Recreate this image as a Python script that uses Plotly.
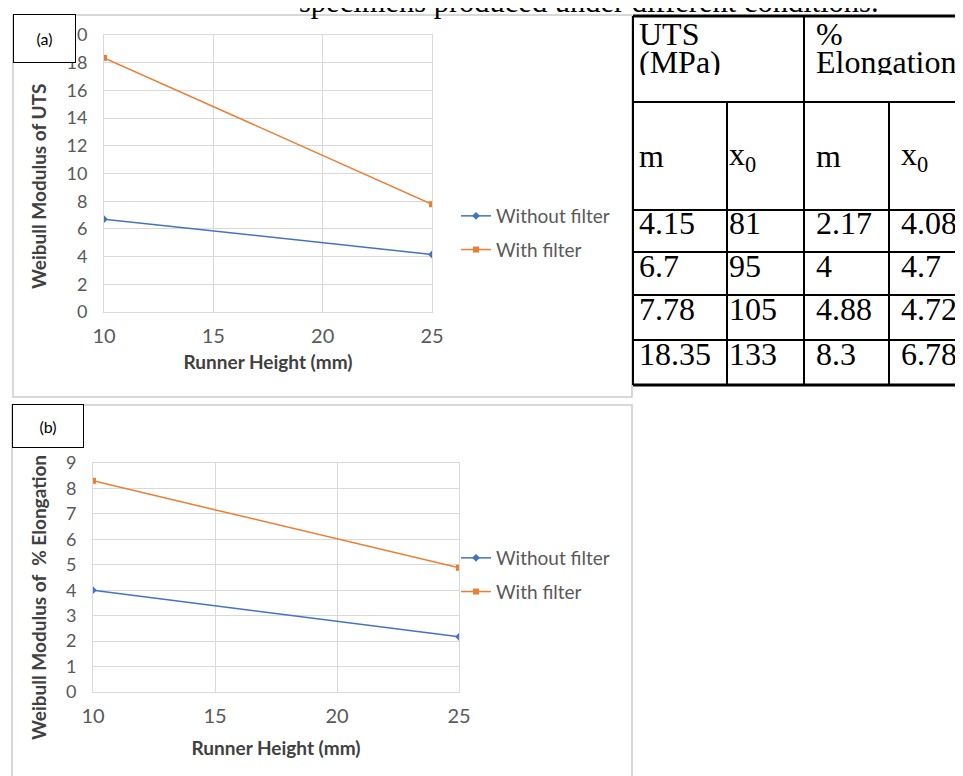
import plotly.graph_objects as go

# ---------------- data ----------------
runner_height = [10, 25]
uts_without = [6.7, 4.15]
uts_with = [18.35, 7.78]
elong_without = [4, 2.17]
elong_with = [8.3, 4.88]
series_names = ["Without filter", "With filter"]
x_ticks = [10, 15, 20, 25]

uts_m = [4.15, 6.7, 7.78, 18.35]
uts_x0 = [81, 95, 105, 133]
elong_m = [2.17, 4, 4.88, 8.3]
elong_x0 = [4.08, 4.7, 4.72, 6.78]
header_line1 = ["UTS", "%"]
header_line2 = ["(MPa)", "Elongation"]
header_sub = ["m", "x<sub>0</sub>", "m", "x<sub>0</sub>"]
top_text = "specimens produced under different conditions."

# ---------------- styling ----------------
W, H = 963, 776
OFF = 8  # the page body adds an 8px margin around the figure
BLUE = "#4472C4"
ORANGE = "#ED7D31"
GRID = "#d9d9d9"
TXT = "#595959"
FONT = "Lato"
SERIF = "Liberation Serif"


def px(x):
    return (x - OFF) / W


def py(y):
    return 1 - (y - OFF) / H


fig = go.Figure()

panels = [
    dict(xa="x", ya="y", leg="legend", ys=(uts_without, uts_with)),
    dict(xa="x2", ya="y2", leg="legend2", ys=(elong_without, elong_with)),
]
for p in panels:
    for i, (vals, color, sym, msize) in enumerate(
        zip(p["ys"], (BLUE, ORANGE), ("diamond", "square"), (6, 6))
    ):
        fig.add_trace(go.Scatter(
            x=runner_height, y=vals, mode="lines+markers",
            name=series_names[i],
            line=dict(color=color, width=1.5),
            marker=dict(symbol=sym, size=msize, color=color),
            xaxis=p["xa"], yaxis=p["ya"], legend=p["leg"],
            legendgroup=p["leg"] + str(i),
        ))


def xaxis(dom, anchor, title_standoff):
    return dict(
        domain=dom, anchor=anchor, range=[10, 25], tickvals=x_ticks,
        showgrid=True, gridcolor=GRID, gridwidth=1, automargin=False,
        showline=True, linecolor=GRID, mirror=True, zeroline=False,
        ticks="", ticklabelstandoff=6,
        tickfont=dict(family=FONT, size=20, color=TXT),
        title=dict(text="Runner Height (mm)", standoff=title_standoff,
                   font=dict(family=FONT, size=19, color="#404040", weight="bold")),
    )


def yaxis(dom, anchor, rng, dt):
    return dict(
        domain=dom, anchor=anchor, range=rng, dtick=dt, automargin=False,
        showgrid=True, gridcolor=GRID, gridwidth=1,
        showline=True, linecolor=GRID, mirror=True, zeroline=False,
        ticks="", ticklabelstandoff=12,
        tickfont=dict(family=FONT, size=18, color=TXT),
    )


shapes = []
# chart frames
shapes.append(dict(type="rect", xref="paper", yref="paper", layer="below",
                   x0=px(13), x1=px(632), y0=py(397), y1=py(15),
                   line=dict(color="#cccccc", width=1.5), fillcolor="white"))
shapes.append(dict(type="rect", xref="paper", yref="paper", layer="below",
                   x0=px(12), x1=px(632), y0=py(800), y1=py(405),
                   line=dict(color="#cccccc", width=1.5), fillcolor="white"))

# table grid
t_left, t_right = 633, 980
col_x = [633, 727, 804, 889]
text_x = [637, 727, 814, 899]
row_y = [16, 102, 210, 252, 295, 340, 385]
for k, yv in enumerate(row_y):
    w = 3 if k in (0, len(row_y) - 1) else 2
    shapes.append(dict(type="line", xref="paper", yref="paper",
                       x0=px(t_left), x1=px(t_right), y0=py(yv), y1=py(yv),
                       line=dict(color="black", width=w)))
for k, xv in enumerate(col_x):
    top = row_y[0] if k in (0, 2) else row_y[1]
    shapes.append(dict(type="line", xref="paper", yref="paper",
                       x0=px(xv), x1=px(xv), y0=py(top), y1=py(row_y[-1]),
                       line=dict(color="black", width=2)))

annotations = []
tf = dict(family=SERIF, size=32, color="black")
# header lines
for j, (l1, l2) in enumerate(zip(header_line1, header_line2)):
    xl = text_x[2 * j]
    annotations.append(dict(text=l1, x=px(xl), y=py(34), xref="paper", yref="paper",
                            xanchor="left", yanchor="middle", showarrow=False, font=tf,
                            height=26, valign="middle"))
    annotations.append(dict(text=l2, x=px(xl), y=py(62), xref="paper", yref="paper",
                            xanchor="left", yanchor="middle", showarrow=False, font=tf,
                            height=26, valign="middle"))
for j, s in enumerate(header_sub):
    annotations.append(dict(text=s, x=px(text_x[j]), y=py(156), xref="paper", yref="paper",
                            xanchor="left", yanchor="middle", showarrow=False, font=tf))
data_rows_y = [223, 266, 309, 354]
for j, col in enumerate([uts_m, uts_x0, elong_m, elong_x0]):
    for r, v in enumerate(col):
        annotations.append(dict(text=f"{v:g}", x=px(text_x[j]), y=py(data_rows_y[r]),
                                xref="paper", yref="paper", xanchor="left", yanchor="middle",
                                showarrow=False, font=tf))

# cropped running text at top (only its lower part shows, as in the source page)
annotations.append(dict(text=top_text, x=px(297), y=py(21), xref="paper", yref="paper",
                        xanchor="left", yanchor="bottom", showarrow=False,
                        font=dict(family=SERIF, size=30.5, color="black")))

# y-axis titles
ytf = dict(family=FONT, size=19, color="#404040", weight="bold")
annotations.append(dict(text="Weibull Modulus of UTS", textangle=-90,
                        x=px(38), y=py(187), xref="paper", yref="paper",
                        xanchor="center", yanchor="middle", showarrow=False, font=ytf))
annotations.append(dict(text="Weibull Modulus of  % Elongation", textangle=-90,
                        x=px(38), y=py(598), xref="paper", yref="paper",
                        xanchor="center", yanchor="middle", showarrow=False, font=ytf))

# panel labels (boxes)
lab = dict(family=FONT, size=16, color="black")
annotations.append(dict(text="(a)", x=px(13), y=py(14), xref="paper", yref="paper",
                        xanchor="left", yanchor="top", showarrow=False, font=lab,
                        width=61, height=47, borderpad=0, borderwidth=1,
                        bordercolor="black", bgcolor="white", align="center", valign="middle"))
annotations.append(dict(text="(b)", x=px(12), y=py(404), xref="paper", yref="paper",
                        xanchor="left", yanchor="top", showarrow=False, font=lab,
                        width=70, height=42, borderpad=0, borderwidth=1,
                        bordercolor="black", bgcolor="white", align="center", valign="middle"))

legfont = dict(family=FONT, size=19, color=TXT)
fig.update_layout(
    width=W, height=H,
    margin=dict(l=0, r=0, t=0, b=0, autoexpand=False),
    paper_bgcolor="white", plot_bgcolor="rgba(0,0,0,0)",
    xaxis=xaxis([px(104), px(432)], "y", 9),
    yaxis=yaxis([py(312), py(35)], "x", [0, 20], 2),
    xaxis2=xaxis([px(93), px(459)], "y2", 15),
    yaxis2=yaxis([py(692), py(463)], "x2", [0, 9], 1),
    legend=dict(x=px(456), y=py(197), xanchor="left", yanchor="top", font=legfont,
                bgcolor="rgba(0,0,0,0)", tracegroupgap=6, itemwidth=30),
    legend2=dict(x=px(456), y=py(539), xanchor="left", yanchor="top", font=legfont,
                 bgcolor="rgba(0,0,0,0)", tracegroupgap=6, itemwidth=30),
    shapes=shapes,
    annotations=annotations,
    showlegend=True,
)

fig.write_html("out.html")
